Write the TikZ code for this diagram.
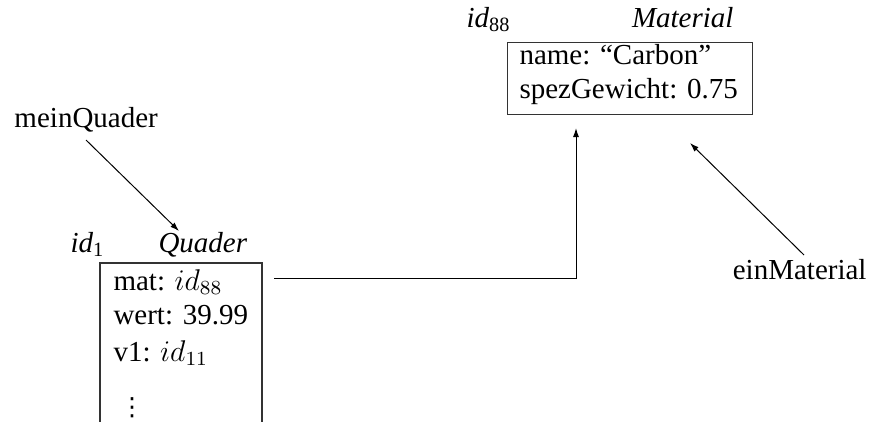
\documentclass[tikz,border=0pt]{standalone}
\usepackage{fontspec}
\setmainfont{Liberation Serif}
\newfontfamily\dotsfont{DejaVu Sans}
\usetikzlibrary{arrows.meta}
\begin{document}
\begin{tikzpicture}[x=0.4pt,y=-0.4pt,
  txt/.style={inner sep=0pt,anchor=base west,font=\fontsize{11.6}{14}\selectfont},
  boxline/.style={line width=0.5pt,draw=black!80},
  conn/.style={line width=0.4pt,-{Latex[length=3.6pt,width=2.4pt]}},
  plain/.style={line width=0.4pt}]
\useasboundingbox (0,0) rectangle (871,421);
% Quader object
\node[inner sep=0pt,minimum width=161*0.4pt,minimum height=158*0.4pt,anchor=north west] (quader) at (100,263) {};
\draw[boxline] (quader.south west) -- (quader.north west) -- (quader.north east) -- (quader.south east);
\node[txt] (qid) at (70,252) {\textit{id}\textsubscript{1}};
\node[txt] (qcls) at (158,252) {\textit{Quader}};
\node[txt] (qmat) at (113,290) {mat: $id_{88}$};
\node[txt] (qwert) at (113,324) {wert: 39.99};
\node[txt] (qv1) at (113,361) {v1: $id_{11}$};
\node[txt,font=\dotsfont\fontsize{10}{12}\selectfont] (qdots) at (119,415) {⋮};
% Material object
\node[draw=black!80,line width=0.5pt,inner sep=0pt,minimum width=245*0.4pt,minimum height=72*0.4pt,anchor=north west] (material) at (507,42) {};
\node[txt] (mid) at (466,27) {\textit{id}\textsubscript{88}};
\node[txt,anchor=base east] (mcls) at (734,27) {\textit{Material}};
\node[txt] (mname) at (519,64) {name: ``Carbon''};
\node[txt] (mspez) at (519,98) {spezGewicht: 0.75};
% references
\node[txt] (mq) at (14,127) {meinQuader};
\node[txt,anchor=base east] (em) at (867,279) {einMaterial};
\coordinate (mqs) at (86,140);
\coordinate (mqe) at (179,231);
\draw[conn] (mqs) -- (mqe);
\coordinate (ems) at (804,255);
\coordinate (eme) at (690,143);
\draw[conn] (ems) -- (eme);
\coordinate (qs) at (274,278);
\coordinate (qc) at (576,278);
\coordinate (qe) at (576,128);
\draw[conn] (qs) -- (qc) -- (qe);
\end{tikzpicture}
\end{document}
